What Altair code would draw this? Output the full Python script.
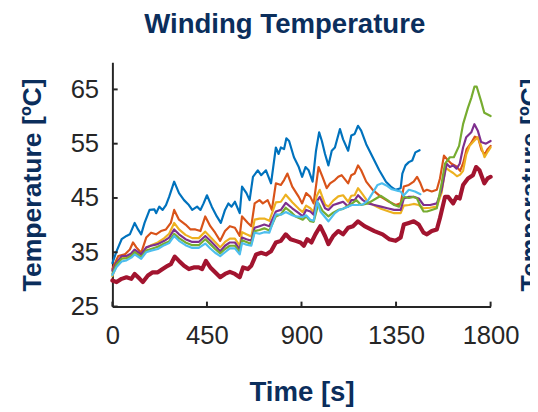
import altair as alt
import pandas as pd

TIME_TICKS = [0, 450, 900, 1350, 1800]
TEMP_TICKS = [25, 35, 45, 55, 65]
SERIES = ["S1", "S2", "S3", "S4", "S5", "S6"]
COLORS = ["#0072BD", "#D95319", "#EDB120", "#7E2F8E", "#77AC30", "#4DBEEE"]
RED_COLOR = "#A2142F"

BLUE = [(0, 33.0), (20, 35.2), (44, 37.4), (67, 38.0), (83, 38.3), (106, 40.4), (122, 39.2),
        (137, 38.3), (153, 40.4), (177, 42.8), (200, 42.9), (208, 42.2), (223, 43.4), (239, 42.8),
        (255, 43.7), (270, 45.2), (294, 48.0), (317, 45.9), (341, 44.6), (364, 43.7), (380, 42.8),
        (403, 43.4), (419, 42.8), (434, 44.0), (450, 45.5), (473, 43.4), (497, 41.6), (516, 40.4),
        (536, 42.8), (552, 44.0), (567, 43.4), (583, 44.3), (606, 42.2), (617, 47.1), (638, 45.9),
        (653, 44.6), (669, 48.9), (692, 50.1), (708, 49.2), (731, 50.1), (755, 47.7), (778, 54.3),
        (791, 53.1), (802, 54.3), (817, 54.0), (828, 56.0), (841, 55.5), (864, 52.5), (887, 50.7),
        (903, 48.9), (919, 50.7), (934, 50.1), (953, 48.0), (969, 53.7), (984, 57.1), (997, 55.5),
        (1012, 53.1), (1028, 51.0), (1044, 53.7), (1059, 54.3), (1083, 57.7), (1098, 55.8),
        (1122, 53.7), (1137, 56.5), (1153, 56.8), (1169, 58.3), (1184, 57.4), (1208, 54.9),
        (1239, 52.5), (1270, 50.1), (1302, 48.0), (1325, 47.1), (1348, 46.5), (1372, 46.8),
        (1380, 49.5), (1395, 51.0), (1411, 51.6), (1427, 51.9), (1442, 53.4), (1462, 53.8)]

ORANGE = [(0, 31.9), (28, 34.3), (59, 34.6), (83, 35.5), (98, 36.8), (114, 35.9), (137, 34.9),
          (161, 37.7), (184, 38.6), (208, 38.3), (231, 38.9), (255, 39.2), (278, 40.4), (294, 42.8),
          (317, 41.0), (348, 40.1), (372, 39.2), (395, 39.2), (419, 38.9), (442, 41.6), (466, 39.8),
          (489, 38.6), (513, 37.1), (536, 38.9), (559, 39.8), (583, 39.5), (606, 38.0), (617, 41.6),
          (645, 40.4), (661, 39.8), (677, 44.0), (700, 44.6), (716, 44.0), (739, 44.6), (759, 42.8),
          (778, 47.7), (802, 47.4), (817, 48.3), (833, 49.5), (856, 47.1), (887, 45.2), (903, 44.0),
          (922, 45.9), (942, 45.2), (958, 44.0), (981, 50.7), (1000, 48.9), (1020, 46.8),
          (1036, 47.7), (1059, 48.3), (1075, 48.9), (1091, 49.2), (1122, 47.7), (1137, 49.2),
          (1153, 49.5), (1169, 51.0), (1184, 50.1), (1208, 48.0), (1239, 46.5), (1278, 45.2),
          (1317, 44.3), (1348, 43.7), (1372, 44.0), (1387, 47.1), (1411, 47.4), (1434, 48.0),
          (1450, 48.9), (1466, 47.7), (1481, 46.2), (1497, 46.5), (1520, 46.2), (1544, 46.5),
          (1559, 48.6), (1578, 52.8), (1598, 51.9), (1614, 51.3), (1638, 50.8), (1655, 50.0),
          (1670, 51.5), (1686, 54.0), (1705, 55.0), (1725, 56.3), (1741, 56.0), (1757, 53.8),
          (1772, 53.0), (1786, 54.0), (1800, 54.6)]

YELLOW = [(0, 30.6), (20, 32.6), (44, 33.9), (67, 34.0), (90, 34.5), (106, 35.3), (137, 34.4),
          (161, 35.8), (184, 36.3), (216, 36.8), (247, 37.6), (270, 38.4), (294, 40.4), (317, 39.2),
          (348, 38.2), (380, 37.6), (411, 37.6), (442, 38.8), (466, 37.8), (489, 36.9), (513, 35.9),
          (536, 36.9), (559, 37.5), (583, 37.5), (606, 36.2), (617, 38.7), (638, 38.3), (661, 37.9),
          (677, 41.0), (700, 41.2), (723, 41.2), (747, 40.8), (778, 44.2), (802, 44.3), (825, 45.6),
          (856, 44.2), (887, 43.0), (906, 42.4), (922, 43.6), (942, 43.1), (958, 42.4), (972, 45.3),
          (987, 46.5), (1012, 43.8), (1028, 43.4), (1051, 44.5), (1075, 45.3), (1098, 45.5),
          (1122, 44.3), (1137, 45.4), (1153, 45.5), (1169, 46.8), (1192, 45.6), (1216, 44.3),
          (1247, 43.6), (1278, 43.0), (1309, 42.6), (1341, 42.2), (1372, 42.2), (1387, 43.6),
          (1411, 43.7), (1434, 43.9), (1458, 43.7), (1481, 43.1), (1512, 43.2), (1544, 43.4),
          (1567, 46.0), (1585, 50.6), (1606, 50.0), (1622, 49.6), (1640, 49.0), (1655, 49.3),
          (1669, 50.0), (1684, 53.0), (1700, 54.6), (1723, 55.6), (1740, 56.2), (1755, 54.5),
          (1771, 52.5), (1786, 53.5), (1800, 54.3)]

PURPLE = [(0, 31.6), (20, 33.1), (44, 34.3), (67, 34.3), (90, 34.8), (106, 35.5), (137, 34.6),
          (161, 35.9), (184, 36.2), (216, 36.5), (247, 37.1), (270, 37.7), (294, 39.2), (317, 38.3),
          (348, 37.4), (380, 36.9), (411, 36.9), (442, 38.0), (466, 37.1), (489, 36.2), (513, 35.2),
          (536, 36.2), (559, 36.8), (583, 36.8), (606, 35.5), (617, 37.7), (638, 37.4), (661, 37.1),
          (677, 39.5), (700, 39.8), (723, 40.1), (747, 39.8), (778, 42.5), (802, 42.8), (825, 44.1),
          (856, 43.1), (887, 42.2), (906, 41.6), (922, 42.8), (942, 42.5), (958, 41.9), (972, 44.3),
          (987, 45.2), (1012, 43.1), (1028, 42.8), (1051, 43.7), (1075, 44.0), (1098, 44.3),
          (1122, 43.4), (1137, 44.6), (1153, 44.6), (1169, 45.5), (1192, 44.6), (1216, 44.0),
          (1247, 43.7), (1278, 43.4), (1309, 43.1), (1341, 42.8), (1372, 42.8), (1387, 44.9),
          (1411, 45.2), (1434, 45.2), (1458, 44.9), (1481, 43.7), (1512, 43.7), (1544, 44.0),
          (1567, 46.5), (1591, 51.3), (1606, 50.7), (1622, 51.0), (1638, 50.4), (1653, 51.3),
          (1669, 54.3), (1684, 56.2), (1708, 57.1), (1723, 58.6), (1739, 57.4), (1755, 55.3),
          (1778, 55.0), (1800, 55.5)]

GREEN = [(0, 31.0), (20, 32.8), (44, 33.8), (67, 33.9), (90, 34.3), (106, 35.0), (137, 34.1),
         (161, 35.3), (184, 35.6), (216, 36.0), (247, 36.6), (270, 37.0), (294, 38.4), (317, 37.6),
         (348, 36.8), (380, 36.3), (411, 36.3), (442, 37.4), (466, 36.5), (489, 35.6), (513, 34.8),
         (536, 35.6), (559, 36.2), (583, 36.2), (606, 35.0), (617, 37.2), (638, 36.9), (661, 36.5),
         (677, 38.9), (700, 39.1), (723, 39.4), (747, 39.0), (778, 41.6), (802, 42.0), (825, 43.2),
         (856, 42.2), (872, 41.6), (906, 41.0), (922, 41.6), (942, 40.7), (958, 40.6), (981, 44.0),
         (1000, 42.6), (1028, 41.6), (1051, 42.3), (1075, 42.8), (1098, 43.0), (1130, 43.7),
         (1161, 44.6), (1184, 43.7), (1216, 44.0), (1255, 44.9), (1278, 45.4), (1309, 44.6),
         (1341, 43.7), (1364, 43.4), (1387, 45.2), (1411, 45.0), (1434, 45.2), (1450, 44.9),
         (1466, 43.5), (1481, 42.5), (1497, 42.5), (1520, 42.8), (1544, 43.1), (1567, 47.7),
         (1583, 51.3), (1606, 52.5), (1625, 52.5), (1650, 54.6), (1669, 58.6), (1692, 61.6),
         (1708, 63.4), (1723, 65.5), (1734, 65.5), (1755, 62.8), (1770, 60.7), (1800, 60.1)]

CYAN = [(0, 30.8), (20, 32.3), (44, 33.3), (67, 33.5), (90, 34.0), (106, 34.6), (137, 33.8),
        (161, 35.0), (184, 35.3), (216, 35.6), (247, 36.3), (270, 36.7), (294, 38.0), (317, 37.1),
        (348, 36.3), (380, 35.8), (411, 35.8), (442, 36.6), (466, 35.7), (489, 34.9), (513, 34.3),
        (536, 35.0), (559, 35.7), (583, 35.7), (606, 34.6), (617, 36.7), (638, 36.4), (661, 36.2),
        (677, 38.6), (700, 38.4), (723, 38.7), (747, 38.6), (778, 42.0), (802, 41.9), (825, 42.4),
        (856, 41.8), (872, 41.6), (906, 41.5), (922, 41.8), (942, 41.0), (958, 40.8), (975, 44.4),
        (990, 42.5), (1028, 40.7), (1059, 42.2), (1080, 42.8), (1110, 43.2), (1140, 43.7),
        (1169, 43.7), (1192, 43.8), (1216, 44.5), (1235, 45.7), (1262, 47.4), (1283, 47.7),
        (1309, 47.2), (1330, 46.6), (1360, 46.3), (1372, 46.2), (1385, 45.4), (1411, 46.5),
        (1440, 46.2), (1466, 45.7)]

RED = [(0, 29.8), (20, 29.5), (44, 30.1), (67, 30.4), (90, 30.1), (106, 31.0), (130, 30.1),
       (145, 29.5), (169, 30.7), (192, 31.3), (216, 31.3), (239, 31.9), (263, 32.5), (278, 32.8),
       (297, 34.2), (317, 33.4), (341, 32.5), (364, 31.9), (387, 32.2), (411, 32.2), (427, 31.9),
       (445, 33.4), (466, 32.2), (489, 31.3), (513, 30.4), (536, 31.0), (559, 31.4), (583, 31.0),
       (606, 30.4), (622, 32.2), (645, 31.9), (661, 32.5), (684, 34.6), (708, 34.9), (731, 34.6),
       (755, 35.2), (778, 36.8), (802, 37.1), (825, 38.3), (848, 37.4), (872, 37.1), (895, 36.8),
       (911, 36.2), (927, 37.4), (947, 36.8), (966, 38.3), (989, 39.8), (1012, 38.0), (1028, 36.5),
       (1051, 38.0), (1075, 38.9), (1098, 38.3), (1122, 39.5), (1145, 39.8), (1169, 40.7),
       (1200, 39.8), (1247, 38.9), (1286, 38.3), (1317, 37.4), (1348, 37.1), (1372, 37.7),
       (1387, 40.1), (1411, 40.4), (1434, 40.7), (1458, 40.1), (1481, 38.6), (1497, 38.3),
       (1520, 38.9), (1544, 39.2), (1559, 41.3), (1583, 45.2), (1598, 45.2), (1622, 44.0),
       (1638, 45.2), (1653, 44.9), (1669, 47.4), (1692, 48.6), (1716, 49.2), (1731, 50.7),
       (1747, 50.1), (1770, 47.7), (1786, 48.6), (1800, 48.9)]

rows = []
for name, pts in zip(SERIES, [BLUE, ORANGE, YELLOW, PURPLE, GREEN, CYAN]):
    for t, v in pts:
        rows.append({"series": name, "t": t, "T": v})
df = pd.DataFrame(rows)
df_red = pd.DataFrame({"t": [p[0] for p in RED], "T": [p[1] for p in RED]})

NAVY = "#0b2e5c"
INK = "#262626"
FONT = "Liberation Sans"

xscale = alt.Scale(domain=[0, 1800], nice=False, zero=False)
yscale = alt.Scale(domain=[25, 70], nice=False, zero=False)

lines = alt.Chart(df).mark_line(strokeJoin="round", strokeCap="round", strokeWidth=2.2).encode(
    x=alt.X("t:Q", scale=xscale,
            axis=alt.Axis(values=TIME_TICKS, format="d", title="Time [s]", ticks=False, tickSize=0,
                          grid=False, labelPadding=17, labelFlush=False, labelFont=FONT,
                          labelFontSize=26, labelColor=INK, domainColor=INK, domainWidth=2,
                          titleFont=FONT, titleFontSize=28, titleFontWeight="bold", titleColor=NAVY,
                          titleBaseline="alphabetic", titleY=95)),
    y=alt.Y("T:Q", scale=yscale,
            axis=alt.Axis(values=TEMP_TICKS, title="Temperature [ºC]", orient="left", ticks=False,
                          tickSize=0, grid=False, labelPadding=14, labelFont=FONT, labelFontSize=26,
                          labelColor=INK, domainColor=INK, domainWidth=2,
                          titleFont=FONT, titleFontSize=27, titleFontWeight="bold", titleColor=NAVY,
                          titleAngle=270, titleBaseline="alphabetic", titleAlign="center",
                          titleX=-73, titleY=124)),
    color=alt.Color("series:N", scale=alt.Scale(domain=SERIES, range=COLORS), legend=None),
)

red = alt.Chart(df_red).mark_line(strokeJoin="round", strokeCap="round", strokeWidth=4.2,
                                  color=RED_COLOR).encode(
    x=alt.X("t:Q", scale=xscale),
    y=alt.Y("T:Q", scale=yscale, axis=None),
)

xt = pd.DataFrame({"t": TIME_TICKS})
xticks = alt.Chart(xt).mark_rule(color=INK, strokeWidth=2).encode(
    x=alt.X("t:Q", scale=xscale),
    y=alt.YDatum(25, axis=None),
    y2=alt.datum(25.9),
)

yt = pd.DataFrame({"v": TEMP_TICKS})
yticks = alt.Chart(yt).mark_rule(color=INK, strokeWidth=2).encode(
    y=alt.Y("v:Q", scale=yscale,
            axis=alt.Axis(orient="right", title="Temperature [ºC]", labels=False, ticks=False,
                          domain=False, grid=False, titleFont=FONT, titleFontSize=27,
                          titleFontWeight="bold", titleColor=NAVY, titleAngle=270,
                          titleBaseline="alphabetic", titleAlign="center", titleX=49, titleY=124)),
    x=alt.XDatum(0),
    x2=alt.datum(25),
)

chart = alt.layer(lines, red, xticks, yticks).resolve_axis(y="independent").properties(
    width=384, height=248,
    autosize=alt.AutoSizeParams(type="none"),
    padding={"left": 106, "top": 52, "right": 40, "bottom": 104},
    title=alt.TitleParams("Winding Temperature", font=FONT, fontSize=28, fontWeight="bold",
                          color=NAVY, anchor="middle", dx=-17, baseline="alphabetic", offset=2),
).configure_view(strokeWidth=0)

chart.save("out.html", embed_options={"renderer": "svg", "actions": False})
